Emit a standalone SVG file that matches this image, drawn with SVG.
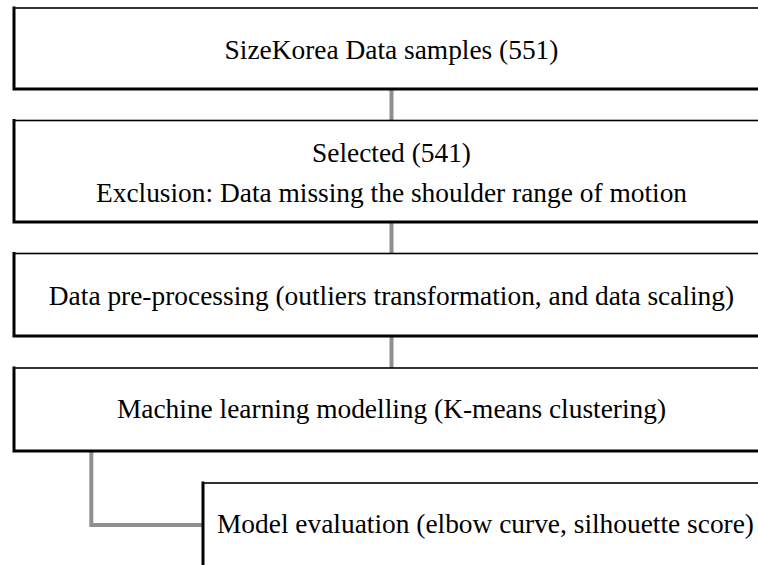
<svg xmlns="http://www.w3.org/2000/svg" width="758" height="565" viewBox="0 0 758 565">
<style>
.box{fill:#fff;stroke:#000;stroke-width:1.6}
.edge{stroke:#000;stroke-width:3;fill:none;stroke-linecap:square}
.t{font-family:"Liberation Serif","Times New Roman",serif;font-size:27.4px;fill:#000;text-anchor:middle}
.conn{stroke:#8f8f8f;stroke-width:4;fill:none}
</style>
<rect width="758" height="565" fill="#fff"/>
<g id="connectors">
<line class="conn" x1="391.5" y1="89" x2="391.5" y2="120.5"/>
<line class="conn" x1="391.5" y1="222" x2="391.5" y2="253.5"/>
<line class="conn" x1="391.5" y1="336" x2="391.5" y2="368"/>
<path class="conn" d="M91.3,451 V525 H203"/>
</g>
<g id="n1">
<rect class="box" x="14" y="8" width="760" height="81"/>
<path class="edge" d="M14,8 V89 H770"/>
<text class="t" x="391.5" y="59">SizeKorea Data samples (551)</text>
</g>
<g id="n2">
<rect class="box" x="14" y="120.5" width="760" height="101.5"/>
<path class="edge" d="M14,120.5 V222 H770"/>
<text class="t" x="391.5" y="162">Selected (541)</text>
<text class="t" x="391.5" y="202">Exclusion: Data missing the shoulder range of motion</text>
</g>
<g id="n3">
<rect class="box" x="14" y="253.5" width="760" height="82.5"/>
<path class="edge" d="M14,253.5 V336 H770"/>
<text class="t" x="391.5" y="305">Data pre-processing (outliers transformation, and data scaling)</text>
</g>
<g id="n4">
<rect class="box" x="14" y="368" width="760" height="83"/>
<path class="edge" d="M14,368 V451 H770"/>
<text class="t" x="391.5" y="418">Machine learning modelling (K-means clustering)</text>
</g>
<g id="n5">
<rect class="box" x="203" y="483" width="571" height="84"/>
<path class="edge" d="M203,483 V567 H770"/>
<text class="t" x="485.5" y="533">Model evaluation (elbow curve, silhouette score)</text>
</g>
</svg>
